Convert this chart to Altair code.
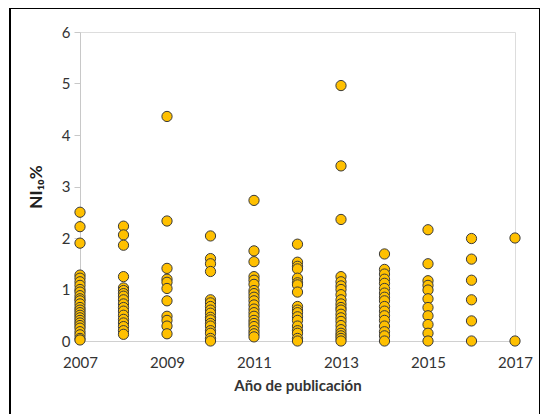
import altair as alt
import pandas as pd

years = [2007, 2008, 2009, 2010, 2011, 2012, 2013, 2014, 2015, 2016, 2017]
y2007 = [2.5, 2.22, 1.9, 1.28, 1.22, 1.15, 1.08, 1.0, 0.95, 0.88, 0.82, 0.78, 0.72, 0.65, 0.6, 0.55, 0.5, 0.45, 0.4, 0.35, 0.3, 0.25, 0.18, 0.12, 0.05, 0.02]
y2008 = [2.23, 2.06, 1.86, 1.25, 1.03, 0.98, 0.92, 0.87, 0.8, 0.72, 0.65, 0.58, 0.5, 0.42, 0.35, 0.28, 0.2, 0.13]
y2009 = [4.36, 2.33, 1.41, 1.2, 1.14, 1.02, 0.78, 0.48, 0.4, 0.29, 0.14]
y2010 = [2.04, 1.6, 1.5, 1.35, 0.8, 0.74, 0.67, 0.6, 0.54, 0.46, 0.41, 0.34, 0.29, 0.2, 0.15, 0.05, 0.0]
y2011 = [2.73, 1.75, 1.54, 1.25, 1.18, 1.1, 0.98, 0.92, 0.85, 0.78, 0.7, 0.62, 0.55, 0.48, 0.4, 0.34, 0.28, 0.2, 0.14, 0.08]
y2012 = [1.88, 1.53, 1.45, 1.4, 1.22, 1.13, 1.09, 0.95, 0.67, 0.6, 0.55, 0.47, 0.4, 0.29, 0.2, 0.15, 0.05, 0.0]
y2013 = [4.96, 3.4, 2.36, 1.25, 1.15, 1.07, 1.0, 0.9, 0.8, 0.72, 0.65, 0.6, 0.52, 0.45, 0.38, 0.3, 0.22, 0.15, 0.1, 0.05, 0.0]
y2014 = [1.69, 1.39, 1.3, 1.2, 1.12, 1.02, 0.93, 0.85, 0.78, 0.67, 0.58, 0.49, 0.4, 0.29, 0.18, 0.1, 0.0]
y2015 = [2.16, 1.5, 1.17, 1.08, 0.99, 0.82, 0.65, 0.49, 0.32, 0.15, 0.0]
y2016 = [1.99, 1.59, 1.18, 0.8, 0.39, 0.0]
y2017 = [2.0, 0.0]
series = [y2007, y2008, y2009, y2010, y2011, y2012, y2013, y2014, y2015, y2016, y2017]
x_ticks = [2007, 2009, 2011, 2013, 2015, 2017]
y_ticks = [0, 1, 2, 3, 4, 5, 6]

rows = []
for yr, vals in zip(years, series):
    for v in vals:
        rows.append({"year": yr, "ni": v})
df = pd.DataFrame(rows)

FONT = "Lato"

points = alt.Chart(df).mark_point(
    shape="circle", filled=True, size=105, fill="#FFC000", stroke="#3a3a3a",
    strokeWidth=1, opacity=1
).encode(
    x=alt.X("year:Q", scale=alt.Scale(domain=[2007, 2017], nice=False, zero=False),
            axis=alt.Axis(values=x_ticks, format="d", title="Año de publicación",
                          grid=False, domainColor="#d0d0d0", tickColor="#d0d0d0",
                          tickSize=0, labelPadding=14, labelFontSize=15, labelFlush=False,
                          labelColor="#333333", titleFontSize=15, titleFontWeight="bold",
                          titleColor="#333333", titlePadding=8, labelFont=FONT, titleFont=FONT)),
    y=alt.Y("ni:Q", scale=alt.Scale(domain=[0, 6], nice=False),
            axis=alt.Axis(values=y_ticks, title="NI₁₀%", grid=False,
                          domainColor="#c8c8c8", tickColor="#c8c8c8", tickSize=6,
                          labelPadding=4, labelFontSize=15, labelColor="#333333",
                          labelFlush=False,
                          titleFontSize=17, titleFontWeight="bold", titleColor="#202020",
                          titlePadding=16, labelFont=FONT, titleFont=FONT))
)

border = alt.Chart(pd.DataFrame({"a": [0]})).mark_rect(
    fill=None, stroke="black", strokeWidth=2, clip=False
).encode(
    x=alt.value(-70), x2=alt.value(460), y=alt.value(-24), y2=alt.value(420)
)

chart = alt.layer(points, border).properties(
    width=435, height=309,
    autosize=alt.AutoSizeParams(type="none"),
    padding={"left": 72, "top": 24, "right": 25, "bottom": 80},
).configure_view(stroke=None).configure(background="white")

chart.save("out.html", embed_options={"renderer": "svg", "actions": False})
